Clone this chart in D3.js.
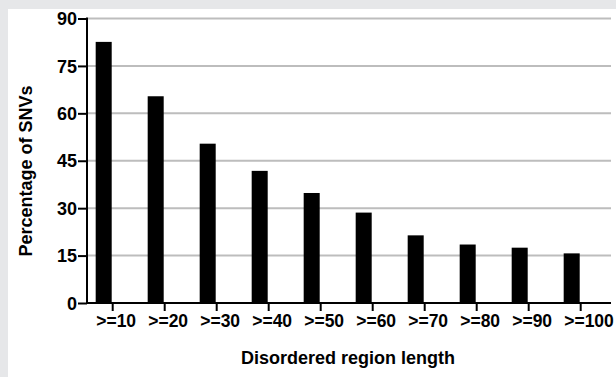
<!DOCTYPE html>
<html><head><meta charset="utf-8">
<script src="https://cdn.jsdelivr.net/npm/d3@7"></script>
<style>
html,body{margin:0;padding:0;background:#fff;}
svg{display:block;}
text{font-family:"Liberation Sans",Arial,sans-serif;font-weight:bold;fill:#000;}
</style></head>
<body>
<script>
const categories = [">=10", ">=20", ">=30", ">=40", ">=50", ">=60", ">=70", ">=80", ">=90", ">=100"];
const values = [82.6, 65.4, 50.4, 41.8, 34.8, 28.6, 21.4, 18.5, 17.5, 15.7];
const yTicks = [0, 15, 30, 45, 60, 75, 90];
const xTitle = "Disordered region length";
const yTitle = "Percentage of SNVs";

const W = 616, H = 377;
const svg = d3.select("body").append("svg").attr("width", W).attr("height", H);

// background frame
svg.append("rect").attr("x", 0).attr("y", 0).attr("width", W).attr("height", H).attr("fill", "#e6e7e9");
svg.append("rect").attr("x", 8).attr("y", 9).attr("width", W - 8).attr("height", H - 9).attr("fill", "#fff");

const axisX = 87, axisRight = 611;
const y = d3.scaleLinear().domain([0, 90]).range([303, 18.5]);
const x = d3.scaleBand().domain(categories)
  .range([axisX, axisX + 52 * (10 - 0.692 + 2 * 0.167)])
  .paddingInner(0.692).paddingOuter(0.167);

// gridlines
svg.append("g").selectAll("line").data(yTicks.filter(d => d > 0)).join("line")
  .attr("x1", axisX + 1).attr("x2", axisRight)
  .attr("y1", d => y(d)).attr("y2", d => y(d))
  .attr("stroke", "#bdbdbd").attr("stroke-width", 2);

// bars
svg.append("g").selectAll("rect").data(values).join("rect")
  .attr("x", (d, i) => x(categories[i]))
  .attr("width", x.bandwidth())
  .attr("y", d => y(d))
  .attr("height", d => y(0) - y(d))
  .attr("fill", "#000");

// y axis
const yAxis = d3.axisLeft(y).tickValues(yTicks).tickSize(9).tickPadding(1);
const gy = svg.append("g").attr("transform", `translate(${axisX},0)`).call(yAxis);
gy.select(".domain").remove();
gy.selectAll(".tick line").attr("stroke", "#000").attr("stroke-width", 2);
gy.selectAll(".tick text").style("font-size", "18px").style("font-family", "Liberation Sans, Arial, sans-serif").style("font-weight", "bold").attr("dy", "0.34em");
svg.append("line").attr("x1", axisX).attr("x2", axisX).attr("y1", y(90) - 1).attr("y2", y(0) + 1)
  .attr("stroke", "#000").attr("stroke-width", 2);

// x axis
svg.append("line").attr("x1", axisX - 1).attr("x2", axisRight).attr("y1", y(0)).attr("y2", y(0))
  .attr("stroke", "#000").attr("stroke-width", 2);
const gx = svg.append("g");
const tickX = c => x(c) + x.bandwidth() + 1;
gx.selectAll("line").data(categories).join("line")
  .attr("x1", tickX).attr("x2", tickX)
  .attr("y1", y(0)).attr("y2", y(0) + 8)
  .attr("stroke", "#000").attr("stroke-width", 2);
gx.selectAll("text").data(categories).join("text")
  .attr("x", c => tickX(c) - 16.5).attr("y", 327)
  .attr("text-anchor", "start").style("font-size", "17.5px")
  .text(d => d);

// titles
svg.append("text").attr("x", 348).attr("y", 364).attr("text-anchor", "middle")
  .style("font-size", "18px").text(xTitle);
svg.append("text").attr("transform", "translate(32,171) rotate(-90)")
  .attr("text-anchor", "middle").style("font-size", "18px").text(yTitle);
</script>
</body></html>
